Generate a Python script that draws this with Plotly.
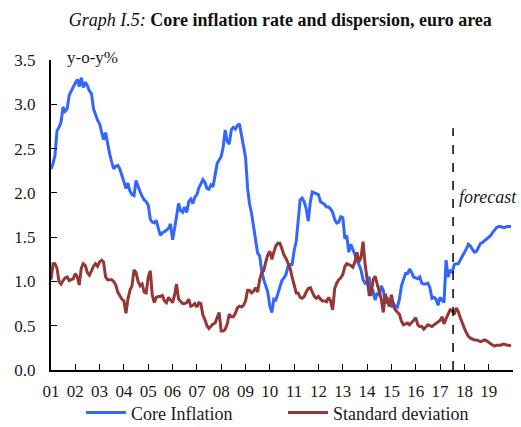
import plotly.graph_objects as go
import pandas as pd

# monthly values, Jan 2001 - Dec 2019
core_inflation = [
    # 2001
    2.27, 2.33, 2.42, 2.70, 2.74, 2.80, 2.97, 2.92, 2.95, 3.10, 3.15, 3.20,
    # 2002
    3.24, 3.28, 3.20, 3.30, 3.19, 3.25, 3.21, 3.15, 3.12, 2.95, 2.88, 2.82,
    # 2003
    2.78, 2.70, 2.60, 2.68, 2.54, 2.44, 2.35, 2.27, 2.30, 2.31, 2.27, 2.20,
    # 2004
    2.12, 2.05, 2.11, 2.02, 1.98, 1.97, 2.14, 2.06, 2.01, 1.96, 1.92, 1.90,
    # 2005
    1.86, 1.70, 1.67, 1.66, 1.69, 1.60, 1.52, 1.55, 1.56, 1.58, 1.60, 1.65,
    # 2006
    1.47, 1.60, 1.75, 1.88, 1.80, 1.78, 1.84, 1.78, 1.90, 1.93, 1.88, 1.95,
    # 2007
    1.98, 2.06, 2.10, 2.15, 2.12, 2.05, 2.04, 2.09, 2.07, 2.20, 2.33, 2.37,
    # 2008
    2.41, 2.52, 2.71, 2.58, 2.55, 2.71, 2.74, 2.72, 2.76, 2.78, 2.66, 2.55,
    # 2009
    2.40, 2.05, 1.88, 1.77, 1.62, 1.45, 1.32, 1.29, 1.12, 1.02, 0.94, 0.88,
    # 2010
    0.72, 0.65, 0.80, 0.79, 0.86, 0.94, 1.01, 1.04, 1.08, 1.17, 1.19, 1.19,
    # 2011
    1.35, 1.45, 1.65, 1.92, 1.94, 1.90, 1.82, 1.68, 1.90, 2.01, 2.00, 1.99,
    # 2012
    1.98, 1.90, 1.89, 1.87, 1.84, 1.84, 1.82, 1.78, 1.70, 1.66, 1.67, 1.73,
    # 2013
    1.72, 1.48, 1.52, 1.33, 1.42, 1.36, 1.30, 1.26, 1.19, 1.13, 1.02, 0.98,
    # 2014
    1.00, 1.05, 0.87, 0.89, 0.79, 0.87, 0.84, 0.95, 0.90, 0.75, 0.82, 0.73,
    # 2015
    0.72, 0.75, 0.72, 0.71, 0.80, 0.95, 1.02, 1.09, 1.09, 1.14, 1.10, 1.05,
    # 2016
    1.04, 1.03, 1.05, 0.98, 0.97, 0.97, 0.98, 0.93, 0.81, 0.82, 0.80, 0.73,
    # 2017
    0.82, 0.78, 0.76, 1.24, 1.05, 1.13, 1.10, 1.19, 1.20, 1.20, 1.24, 1.28,
    # 2018
    1.32, 1.37, 1.42, 1.40, 1.36, 1.33, 1.34, 1.39, 1.43, 1.44, 1.46, 1.47,
    # 2019
    1.49, 1.52, 1.55, 1.58, 1.61, 1.62, 1.62, 1.61, 1.61, 1.62, 1.62, 1.62,
]

std_deviation = [
    # 2001
    1.02, 1.20, 1.20, 1.15, 1.00, 0.97, 1.01, 1.04, 1.05, 1.01, 1.02, 1.03,
    # 2002
    1.09, 1.05, 0.96, 1.15, 1.20, 1.18, 1.10, 1.07, 1.12, 1.17, 1.20, 1.17,
    # 2003
    1.22, 1.24, 1.22, 1.05, 1.02, 1.02, 1.02, 1.00, 0.96, 0.88, 0.84, 0.80,
    # 2004
    0.78, 0.64, 0.80, 0.90, 0.95, 1.13, 1.10, 1.00, 0.95, 0.97, 0.88, 0.87,
    # 2005
    1.05, 1.12, 0.85, 0.76, 0.82, 0.83, 0.83, 0.84, 0.78, 0.76, 0.82, 0.79,
    # 2006
    0.76, 0.85, 0.97, 0.80, 0.77, 0.75, 0.75, 0.76, 0.80, 0.72, 0.73, 0.75,
    # 2007
    0.71, 0.76, 0.75, 0.62, 0.57, 0.50, 0.47, 0.50, 0.52, 0.53, 0.60, 0.65,
    # 2008
    0.44, 0.44, 0.46, 0.52, 0.63, 0.60, 0.60, 0.64, 0.70, 0.72, 0.71, 0.73,
    # 2009
    0.78, 0.90, 0.90, 0.87, 0.89, 0.93, 0.88, 1.02, 1.10, 1.12, 1.22, 1.30,
    # 2010
    1.34, 1.25, 1.33, 1.40, 1.43, 1.43, 1.37, 1.30, 1.26, 1.20, 1.15, 1.05,
    # 2011
    0.95, 0.87, 0.87, 0.82, 0.81, 0.83, 0.88, 0.92, 0.93, 0.87, 0.83, 0.81,
    # 2012
    0.83, 0.80, 0.78, 0.78, 0.77, 0.82, 0.78, 0.68, 0.92, 0.98, 1.02, 1.04,
    # 2013
    1.08, 1.17, 1.20, 1.19, 1.18, 1.16, 1.22, 1.33, 1.22, 1.27, 1.45, 1.20,
    # 2014
    1.05, 0.85, 0.85, 1.02, 1.06, 0.98, 0.88, 0.80, 0.65, 0.86, 0.78, 0.72,
    # 2015
    0.85, 0.72, 0.68, 0.66, 0.63, 0.55, 0.51, 0.52, 0.53, 0.51, 0.53, 0.56,
    # 2016
    0.59, 0.51, 0.49, 0.49, 0.46, 0.48, 0.51, 0.50, 0.49, 0.51, 0.53, 0.54,
    # 2017
    0.56, 0.60, 0.52, 0.58, 0.63, 0.68, 0.67, 0.63, 0.70, 0.66, 0.59, 0.52,
    # 2018
    0.47, 0.42, 0.38, 0.36, 0.35, 0.34, 0.34, 0.33, 0.32, 0.33, 0.34, 0.33,
    # 2019
    0.31, 0.30, 0.28, 0.27, 0.28, 0.28, 0.28, 0.29, 0.29, 0.28, 0.28, 0.27,
]

months = pd.date_range("2001-01-01", periods=len(core_inflation), freq="MS")

years = list(range(2001, 2021))
year_labels = ["01", "02", "03", "04", "05", "06", "07", "08", "09", "10",
               "11", "12", "13", "14", "15", "16", "17", "18", "19", ""]

forecast_start = "2017-07-15"
forecast_top = 2.73

FONT = "Liberation Serif, Times New Roman, serif"
BLUE = "#3366ff"
RED = "#953735"
TXT = "#1a1a1a"

fig = go.Figure()

fig.add_trace(go.Scatter(
    x=months, y=core_inflation, mode="lines", name="Core Inflation",
    line=dict(color=BLUE, width=3), legend="legend"
))
fig.add_trace(go.Scatter(
    x=months, y=std_deviation, mode="lines", name="Standard deviation",
    line=dict(color=RED, width=3), legend="legend2"
))

# forecast marker
fig.add_shape(type="line", x0=forecast_start, x1=forecast_start, y0=0, y1=forecast_top,
              line=dict(color="black", width=1.5, dash="dash"))
fig.add_annotation(x=forecast_start, y=1.95, text="<i>forecast</i>", showarrow=False,
                   xanchor="left", xshift=4, font=dict(size=18, color=TXT, family=FONT))
fig.add_annotation(x=0, y=3.5, xref="paper", text="y-o-y%", showarrow=False,
                   xanchor="left", yanchor="middle", xshift=14, yshift=3,
                   font=dict(size=17, color=TXT, family=FONT))

legend_style = dict(orientation="h", xref="container", yref="container",
                    yanchor="middle", xanchor="left", y=0.033,
                    font=dict(size=18, family=FONT, color=TXT),
                    bgcolor="rgba(0,0,0,0)", itemwidth=40)

fig.update_layout(
    width=521, height=427,
    margin=dict(l=51, r=8, t=60, b=57, autoexpand=False),
    paper_bgcolor="white", plot_bgcolor="white",
    font=dict(family=FONT, size=17, color=TXT),
    title=dict(text="<i>Graph I.5:</i> <b>Core inflation rate and dispersion, euro area</b>",
               x=0.538, xanchor="center", y=0.953, yanchor="middle",
               font=dict(size=18, family=FONT, color="#111111"), automargin=False),
    showlegend=True,
    legend=dict(x=81 / 521, **legend_style),
    legend2=dict(x=283 / 521, **legend_style),
)

fig.update_xaxes(
    range=["2001-01-01", "2020-01-01"],
    tickvals=[f"{y}-01-01" for y in years], ticktext=year_labels,
    ticks="inside", ticklen=6, tickwidth=1, tickcolor="black",
    showline=True, linecolor="black", linewidth=2,
    showgrid=False, zeroline=False, automargin=False, ticklabelstandoff=5,
    tickfont=dict(size=17, family=FONT, color=TXT),
)
fig.update_yaxes(
    range=[0, 3.5], dtick=0.5, tickformat=".1f",
    ticks="inside", ticklen=6, tickwidth=1, tickcolor="black",
    showline=True, linecolor="black", linewidth=2,
    showgrid=False, zeroline=False, automargin=False, ticklabelstandoff=10,
    tickfont=dict(size=17, family=FONT, color=TXT),
)

# drop the browser's default page margin so the figure sits at the window's corner
fig.write_html("out.html", config={"displayModeBar": False},
               post_script="document.body.style.margin = '0';")
